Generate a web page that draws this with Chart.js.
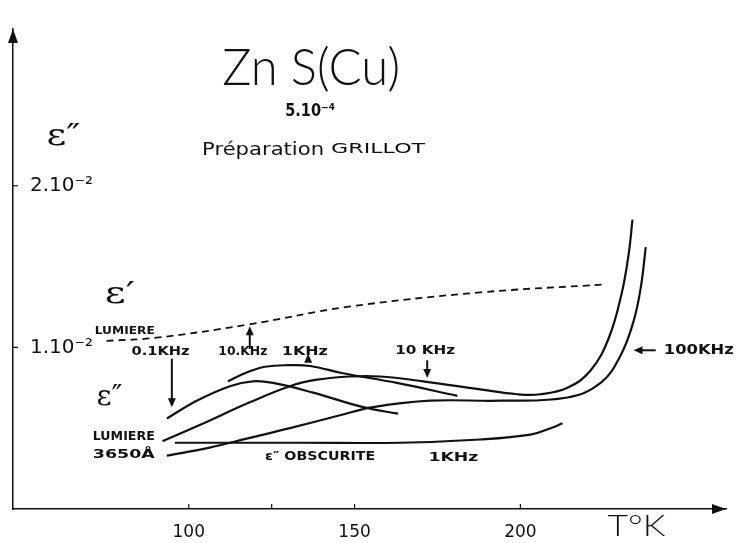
<!DOCTYPE html>
<html>
<head>
<meta charset="utf-8">
<script src="https://cdn.jsdelivr.net/npm/chart.js@4.4.0/dist/chart.umd.min.js"></script>
<style>
  body { margin: 0; background: #fff; }
  #wrap { width: 736px; height: 543px; }
</style>
</head>
<body>
<div id="wrap"><canvas id="zns-chart"></canvas></div>
<script>
// T in K, eps in units of 1e-2
var epsPrimeT = [75.2, 90.3, 117.5, 147.7, 187.9, 226.0];
var epsPrimeV = [1.04, 1.06, 1.14, 1.25, 1.34, 1.39];

var lum01T = [93.4, 102.4, 112.4, 119.3, 125.4, 137.5, 152.6, 163.1];
var lum01V = [0.56, 0.67, 0.76, 0.79, 0.78, 0.72, 0.63, 0.59];

var lum1T = [111.8, 116.9, 123.0, 130.5, 136.6, 146.5, 162.8, 181.0];
var lum1V = [0.79, 0.84, 0.88, 0.89, 0.885, 0.84, 0.78, 0.70];

var lum10T = [92.1, 103.3, 118.4, 130.5, 138.7, 148.6, 157.7, 170.7, 187.9, 199.1, 206.0, 214.2, 221.1, 226.6, 230.5, 232.6, 233.8];
var lum10V = [0.42, 0.52, 0.66, 0.76, 0.80, 0.82, 0.82, 0.79, 0.74, 0.71, 0.71, 0.75, 0.855, 1.055, 1.33, 1.57, 1.79];

var lum100T = [93.4, 106.3, 118.4, 130.5, 145.6, 155.6, 172.8, 194.0, 214.2, 224.2, 230.2, 234.1, 236.3, 237.8];
var lum100V = [0.33, 0.38, 0.44, 0.50, 0.58, 0.63, 0.67, 0.67, 0.69, 0.78, 0.95, 1.16, 1.37, 1.62];

var darkT = [95.8, 133.5, 163.7, 187.9, 203.0, 209.1, 212.7];
var darkV = [0.41, 0.41, 0.41, 0.43, 0.46, 0.50, 0.53];

var xTickValues = [100, 150, 200];
var xMinorTicks = [125];
var yTickValues = [1, 2];
var yTickText = ['1.10\u207B\u00B2', '2.10\u207B\u00B2'];

function pts(t, v) {
  var out = [];
  for (var i = 0; i < t.length; i++) out.push({x: t[i], y: v[i]});
  return out;
}

function curve(t, v, dashed) {
  return {
    data: pts(t, v),
    showLine: true,
    borderColor: '#111',
    borderWidth: dashed ? 1.8 : 2.2,
    borderDash: dashed ? [7, 5] : [],
    pointRadius: 0,
    tension: 0.4,
    fill: false
  };
}

// text: [string, T, eps, font, width]
var notes = [
  ['Zn S(Cu)', 136.9, 2.73, '300 52px Lato', 178],
  ['5.10\u207B\u2074', 136.6, 2.46, 'bold 17px DejaVu Sans', 50],
  ['Pr\u00E9paration', 122.4, 2.22, '18px DejaVu Sans', 122],
  ['GRILLOT', 157.1, 2.225, '14px DejaVu Sans', 94],
  ['\u03B5\u2033', 62.2, 2.30, '30px DejaVu Serif', 34],
  ['\u03B5\u2032', 79.2, 1.32, '30px DejaVu Serif', 30],
  ['LUMIERE', 80.7, 1.10, 'bold 11px DejaVu Sans', 60],
  ['0.1KHz', 91.5, 0.976, 'bold 13px DejaVu Sans', 58],
  ['10.KHz', 116.3, 0.976, 'bold 13px DejaVu Sans', 49],
  ['1KHz', 135.0, 0.976, 'bold 13px DejaVu Sans', 46],
  ['10 KHz', 171.3, 0.982, 'bold 13px DejaVu Sans', 60],
  ['100KHz', 253.8, 0.982, 'bold 14px DejaVu Sans', 70],
  ['\u03B5\u2033', 76.1, 0.69, '28px DejaVu Serif', 26],
  ['LUMIERE', 80.4, 0.448, 'bold 12px DejaVu Sans', 62],
  ['3650\u00C5', 80.4, 0.339, 'bold 13px DejaVu Sans', 62],
  ['\u03B5\u2033 OBSCURITE', 139.6, 0.321, 'bold 13px DejaVu Sans', 110],
  ['1KHz', 179.8, 0.315, 'bold 13px DejaVu Sans', 50],
  ['T\u00B0K', 235.0, -0.11, '300 30px Lato', 58]
];

// arrows: [T0, eps0, T1, eps1] head at the second point
var arrows = [
  [94.9, 0.93, 94.9, 0.63],
  [118.4, 0.99, 118.4, 1.13],
  [136.0, 0.915, 136.0, 0.96],
  [171.9, 0.92, 171.9, 0.81],
  [240.8, 0.982, 234.1, 0.982]
];

var sketchPlugin = {
  id: 'sketch',
  afterDraw: function(chart) {
    var ctx = chart.ctx;
    var xs = chart.scales.x, ys = chart.scales.y;
    var a = chart.chartArea;
    ctx.save();
    ctx.fillStyle = '#111';
    ctx.strokeStyle = '#111';

    // axis arrow heads
    ctx.beginPath();
    ctx.moveTo(a.left, a.top);
    ctx.lineTo(a.left - 5, a.top + 14);
    ctx.lineTo(a.left + 5, a.top + 14);
    ctx.closePath();
    ctx.fill();
    ctx.beginPath();
    ctx.moveTo(a.right, a.bottom);
    ctx.lineTo(a.right - 14, a.bottom - 5);
    ctx.lineTo(a.right - 14, a.bottom + 5);
    ctx.closePath();
    ctx.fill();

    // small tick marks pointing inwards
    ctx.lineWidth = 1.2;
    xTickValues.concat(xMinorTicks).forEach(function(v) {
      var px = xs.getPixelForValue(v);
      ctx.beginPath();
      ctx.moveTo(px, a.bottom);
      ctx.lineTo(px, a.bottom - 5);
      ctx.stroke();
    });
    yTickValues.forEach(function(v) {
      var py = ys.getPixelForValue(v);
      ctx.beginPath();
      ctx.moveTo(a.left, py);
      ctx.lineTo(a.left + 5, py);
      ctx.stroke();
    });

    // labels
    ctx.textAlign = 'center';
    ctx.textBaseline = 'middle';
    notes.forEach(function(n) {
      var px = xs.getPixelForValue(n[1]);
      var py = ys.getPixelForValue(n[2]);
      ctx.font = n[3];
      var w = ctx.measureText(n[0]).width;
      ctx.save();
      ctx.translate(px, py);
      ctx.scale(n[4] / w, 1);
      ctx.fillText(n[0], 0, 0);
      ctx.restore();
    });

    // arrows
    ctx.lineWidth = 2;
    arrows.forEach(function(r) {
      var x0 = xs.getPixelForValue(r[0]), y0 = ys.getPixelForValue(r[1]);
      var x1 = xs.getPixelForValue(r[2]), y1 = ys.getPixelForValue(r[3]);
      var ang = Math.atan2(y1 - y0, x1 - x0);
      ctx.beginPath();
      ctx.moveTo(x0, y0);
      ctx.lineTo(x1 - 6 * Math.cos(ang), y1 - 6 * Math.sin(ang));
      ctx.stroke();
      ctx.beginPath();
      ctx.moveTo(x1, y1);
      ctx.lineTo(x1 - 9 * Math.cos(ang) + 4 * Math.sin(ang), y1 - 9 * Math.sin(ang) - 4 * Math.cos(ang));
      ctx.lineTo(x1 - 9 * Math.cos(ang) - 4 * Math.sin(ang), y1 - 9 * Math.sin(ang) + 4 * Math.cos(ang));
      ctx.closePath();
      ctx.fill();
    });
    ctx.restore();
  }
};

var ctx = document.getElementById('zns-chart').getContext('2d');
var myChart = new Chart(ctx, {
  type: 'scatter',
  data: {
    datasets: [
      curve(epsPrimeT, epsPrimeV, true),
      curve(lum01T, lum01V),
      curve(lum1T, lum1V),
      curve(lum10T, lum10V),
      curve(lum100T, lum100V),
      curve(darkT, darkV)
    ]
  },
  options: {
    responsive: true,
    maintainAspectRatio: false,
    animation: false,
    layout: { padding: { top: 19, right: 10, left: 0, bottom: 0 } },
    plugins: { legend: { display: false }, tooltip: { enabled: false } },
    scales: {
      x: {
        type: 'linear',
        min: 47,
        max: 262,
        grid: { display: false, drawTicks: false },
        border: { display: true, color: '#111', width: 1.5 },
        afterFit: function(s) { s.height = 34; },
        afterBuildTicks: function(s) { s.ticks = xTickValues.map(function(v) { return {value: v}; }); },
        ticks: {
          padding: 13,
          color: '#111',
          font: { family: 'DejaVu Sans', size: 17 },
          callback: function(v) { return String(v); }
        }
      },
      y: {
        type: 'linear',
        min: 0,
        max: 2.97,
        grid: { display: false, drawTicks: false },
        border: { display: true, color: '#111', width: 1.5 },
        afterFit: function(s) { s.width = 13; },
        afterBuildTicks: function(s) { s.ticks = yTickValues.map(function(v) { return {value: v}; }); },
        ticks: {
          mirror: true,
          padding: 17,
          color: '#111',
          font: { family: 'DejaVu Sans', size: 20 },
          callback: function(v, i) { return yTickText[i]; }
        }
      }
    }
  },
  plugins: [sketchPlugin]
});
</script>
</body>
</html>
